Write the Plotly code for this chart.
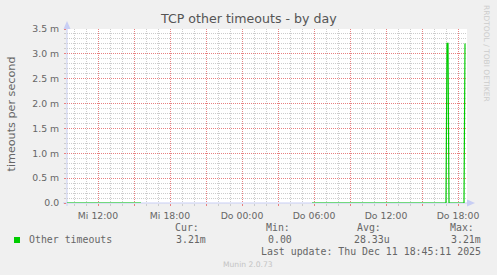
import plotly.graph_objects as go
import pandas as pd

# ---- data ----
times = ["2025-12-10 09:25", "2025-12-10 15:35", "2025-12-10 15:40",
         "2025-12-11 05:50", "2025-12-11 17:00", "2025-12-11 17:05",
         "2025-12-11 17:10", "2025-12-11 17:15", "2025-12-11 18:30",
         "2025-12-11 18:35"]
values = [0.0, 0.0, None, 0.0, 0.0, 3.21e-3, 3.21e-3, 0.0, 0.0, 3.21e-3]

x_range = ["2025-12-10 09:25", "2025-12-11 18:45"]
x_tickvals = ["2025-12-10 12:00", "2025-12-10 15:00", "2025-12-10 18:00",
              "2025-12-10 21:00", "2025-12-11 00:00", "2025-12-11 03:00",
              "2025-12-11 06:00", "2025-12-11 09:00", "2025-12-11 12:00",
              "2025-12-11 15:00", "2025-12-11 18:00"]
x_ticktext = ["Mi 12:00", "", "Mi 18:00", "", "Do 00:00", "", "Do 06:00", "",
              "Do 12:00", "", "Do 18:00"]
y_tickvals = [0, 0.5e-3, 1.0e-3, 1.5e-3, 2.0e-3, 2.5e-3, 3.0e-3, 3.5e-3]
y_ticktext = ["0.0", "0.5 m", "1.0 m", "1.5 m", "2.0 m", "2.5 m", "3.0 m", "3.5 m"]

title = "TCP other timeouts - by day"
y_title = "timeouts per second"
series_name = "Other timeouts"
stat_labels = ["Cur:", "Min:", "Avg:", "Max:"]
stat_values = ["3.21m", "0.00", "28.33u", "3.21m"]
last_update = "Last update: Thu Dec 11 18:45:11 2025"
footer = "Munin 2.0.73"
side_text = "RRDTOOL / TOBI OETIKER"

# ---- minor grid positions (hourly / 0.1 m), skipping major positions ----
hours = pd.date_range("2025-12-10 10:00", "2025-12-11 18:00", freq="1h")
x_minor = [h.strftime("%Y-%m-%d %H:%M") for h in hours if h.hour % 3 != 0]
y_minor = [k * 1e-4 for k in range(1, 35) if k % 5 != 0]

# ---- layout geometry (pixels) ----
W, H = 497, 275
L, R, T, B = 67, 467, 29, 203


def px(x):
    return (x - L) / (R - L)


def py(y):
    return (B - y) / (B - T)


GREEN = "#00CC00"
AXIS = "#C8CEF4"
MGRID = "#E88080"
GRID = "#CCCCCC"
FONT = "#666666"

fig = go.Figure()
fig.add_trace(go.Scatter(x=times, y=values, mode="lines",
                         line=dict(color=GREEN, width=1.2),
                         connectgaps=False, showlegend=False,
                         hoverinfo="skip"))

fig.update_layout(
    width=W, height=H,
    margin=dict(l=L, r=W - R, t=T, b=H - B, pad=0),
    paper_bgcolor="#F0F0F0", plot_bgcolor="#FFFFFF",
    font=dict(family="DejaVu Sans", color=FONT, size=9.3),
    showlegend=False,
)

fig.update_xaxes(
    type="date", range=x_range, tickmode="array",
    tickvals=x_tickvals, ticktext=x_ticktext,
    showgrid=True, gridcolor=MGRID, griddash="1px,1px", gridwidth=1,
    ticks="outside", ticklen=2, tickcolor=MGRID,
    tickfont=dict(family="DejaVu Sans", size=9.3, color=FONT),
    ticklabelstandoff=2,
    showline=False, zeroline=False, fixedrange=True,
    minor=dict(tickmode="array", tickvals=x_minor, showgrid=True,
               gridcolor=GRID, griddash="1px,1px", gridwidth=1,
               ticks="outside", ticklen=2, tickcolor=GRID),
)
fig.update_yaxes(
    range=[0, 3.5e-3], tickmode="array",
    tickvals=y_tickvals, ticktext=y_ticktext,
    showgrid=True, gridcolor=MGRID, griddash="1px,1px", gridwidth=1,
    ticks="outside", ticklen=2, tickcolor=MGRID,
    tickfont=dict(family="DejaVu Sans", size=9.3, color=FONT),
    ticklabelstandoff=3,
    showline=False, zeroline=False, fixedrange=True,
    minor=dict(tickmode="array", tickvals=y_minor, showgrid=True,
               gridcolor=GRID, griddash="1px,1px", gridwidth=1,
               ticks="outside", ticklen=2, tickcolor=GRID),
)

shapes = []
# axis lines
shapes.append(dict(type="line", xref="paper", yref="paper",
                   x0=px(L), x1=px(L), y0=py(206), y1=py(25),
                   line=dict(color=AXIS, width=1), layer="below"))
shapes.append(dict(type="line", xref="paper", yref="paper",
                   x0=px(63), x1=px(471), y0=py(B), y1=py(B),
                   line=dict(color=AXIS, width=1), layer="below"))
# arrows
shapes.append(dict(type="path", xref="paper", yref="paper",
                   path=f"M {px(L-3.5)} {py(29)} L {px(L+3.5)} {py(29)} L {px(L)} {py(21)} Z",
                   fillcolor=AXIS, line=dict(width=0)))
shapes.append(dict(type="path", xref="paper", yref="paper",
                   path=f"M {px(467)} {py(B-3.5)} L {px(467)} {py(B+3.5)} L {px(475)} {py(B)} Z",
                   fillcolor=AXIS, line=dict(width=0)))
# legend swatch
shapes.append(dict(type="rect", xref="paper", yref="paper",
                   x0=px(14), x1=px(20), y0=py(243), y1=py(237),
                   fillcolor=GREEN, line=dict(width=0)))
fig.update_layout(shapes=shapes)

ann = []


def text(x, y, s, size, color=FONT, family="DejaVu Sans", xanchor="left",
         angle=0):
    ann.append(dict(x=px(x), y=py(y), xref="paper", yref="paper", text=s,
                    showarrow=False, xanchor=xanchor, yanchor="middle",
                    textangle=angle,
                    font=dict(family=family, size=size, color=color)))


MONO = "DejaVu Sans Mono"
text(248.5, 19, title, 12.6, color="#555555", xanchor="center")
text(10.5, 114, y_title, 11.2, xanchor="center", angle=-90)
text(487, 53, side_text, 7.5, color="#CCCCCC", xanchor="center", angle=90)

text(26.5, 239.5, series_name, 9.9, family=MONO)
label_x = [172.5, 263.5, 355, 447.5]
value_right = [207.5, 293.5, 391.8, 482.8]
for lx, vr, lab, val in zip(label_x, value_right, stat_labels, stat_values):
    text(lx, 227.5, lab, 9.9, family=MONO)
    text(vr, 239.5, val, 9.9, family=MONO, xanchor="right")
text(482.8, 251, last_update, 9.9, family=MONO, xanchor="right")
text(248, 264.5, footer, 7.6, color="#C4C4C4", xanchor="center")

fig.update_layout(annotations=ann)

fig.write_html("out.html")
